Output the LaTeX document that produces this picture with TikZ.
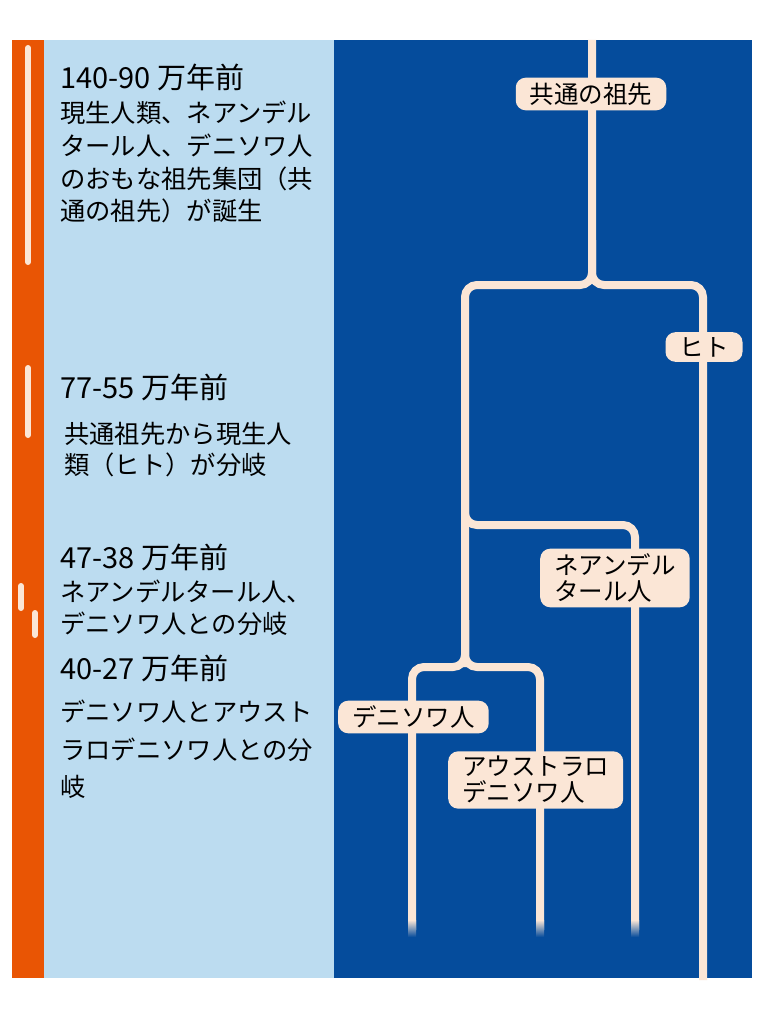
\documentclass[tikz,border=0pt]{standalone}
\usepackage{fontspec}
\setmainfont{Noto Sans CJK JP}
\begin{document}
\begin{tikzpicture}[x=1pt,y=-1pt,
 line/.style={draw=cream,line width=8pt,rounded corners=12pt},
 lab/.style={fill=cream,rounded corners=10pt,font=\fontsize{24.5}{26}\selectfont,text=black,inner xsep=14pt,inner ysep=5pt,align=left},
 head/.style={anchor=west,font=\fontsize{29}{32}\selectfont,text=black,inner sep=0pt},
 body/.style={anchor=west,font=\fontsize{25.3}{28}\selectfont,text=black,inner sep=0pt},
 tick/.style={draw=cream,line width=6pt,line cap=round}]
\definecolor{cream}{HTML}{FBE6D6}
\definecolor{darkb}{HTML}{054C9C}
\definecolor{lightb}{HTML}{BCDCF0}
\definecolor{orng}{HTML}{E95504}
\useasboundingbox (0,0) rectangle (768,1024);
\fill[white] (0,0) rectangle (768,1024);
\fill[orng] (12,40) rectangle (44,978);
\fill[lightb] (44,40) rectangle (334,978);
\fill[darkb] (334,40) rectangle (752,978);
% marks
\draw[tick] (28,48) -- (28,262);
\draw[tick] (28,368) -- (28,435);
\draw[tick] (21,586) -- (21,608);
\draw[tick] (35,613) -- (35,635);
% tree
\coordinate (top) at (592,40);
\draw[line] (top) -- (592,285) -- (465,285) -- (465,667);
\draw[line] (592,240) -- (592,285) -- (703,285) -- (703,980);
\draw[line] (465,480) -- (465,525) -- (635,525) -- (635,930);
\draw[line] (465,620) -- (465,667) -- (412,667) -- (412,930);
\draw[line] (465,620) -- (465,667) -- (540,667) -- (540,930);
\foreach \x in {412,540,635}{
 \shade[top color=cream,bottom color=darkb] (\x-4,920) rectangle (\x+4,937);}
% labels
\node[lab] (anc) at (591,94) {共通の祖先};
\node[lab] (hito) at (704,347) {ヒト};
\node[lab,anchor=west] (nean) at (540,578) {ネアンデル\\タール人};
\node[lab,anchor=west] (deni) at (338,717) {デニソワ人};
\node[lab,anchor=west] (aust) at (448,780) {アウストラロ\\デニソワ人};
% left text
\node[head] (h1) at (60,77) {140-90 万年前};
\node[body] (b11) at (60,113) {現生人類、ネアンデル};
\node[body] (b12) at (60,146) {タール人、デニソワ人};
\node[body] (b13) at (60,179) {のおもな祖先集団（共};
\node[body] (b14) at (60,211) {通の祖先）が誕生};
\node[head] (h2) at (60,387) {77-55 万年前};
\node[body] (b21) at (64,434) {共通祖先から現生人};
\node[body] (b22) at (64,465) {類（ヒト）が分岐};
\node[head] (h3) at (60,557) {47-38 万年前};
\node[body] (b31) at (60,592) {ネアンデルタール人、};
\node[body] (b32) at (60,624) {デニソワ人との分岐};
\node[head] (h4) at (60,668) {40-27 万年前};
\node[body] (b41) at (60,712) {デニソワ人とアウスト};
\node[body] (b42) at (60,750) {ラロデニソワ人との分};
\node[body] (b43) at (60,787) {岐};
\end{tikzpicture}
\end{document}
